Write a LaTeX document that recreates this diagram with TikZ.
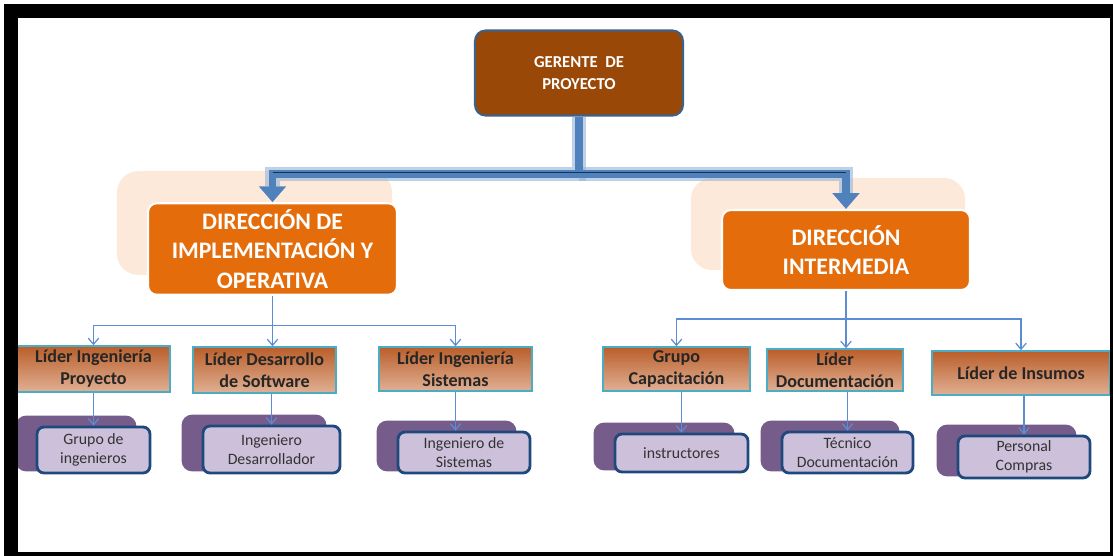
\documentclass[tikz,border=0pt]{standalone}
\usepackage{fontspec}
\setmainfont{Carlito}
\usetikzlibrary{shapes,arrows.meta,positioning,calc,backgrounds}
\definecolor{brown1}{RGB}{153,72,8}
\definecolor{orange1}{RGB}{228,108,10}
\definecolor{peach1}{RGB}{253,233,217}
\definecolor{blue1}{RGB}{79,129,189}
\definecolor{blue2}{RGB}{149,179,215}
\definecolor{blue3}{RGB}{31,73,125}
\definecolor{navy1}{RGB}{63,97,136}
\definecolor{cyan1}{RGB}{75,172,198}
\definecolor{tan1}{RGB}{186,94,42}
\definecolor{tan2}{RGB}{224,176,148}
\definecolor{lilac1}{RGB}{204,192,218}
\definecolor{purple1}{RGB}{117,92,138}
\definecolor{line1}{RGB}{91,141,212}

\tikzset{
  gerbox/.style={draw=navy1, line width=1.2pt, fill=brown1, rounded corners=6pt, text=white,
    font=\fontsize{9.5}{13}\selectfont\bfseries, align=center},
  dirbox/.style={draw=white, line width=1.2pt, fill=orange1, rounded corners=5pt, text=white,
    font=\fontsize{13.5}{17}\selectfont\bfseries, align=center},
  liderbox/.style={draw=cyan1, line width=0.9pt, top color=tan1, bottom color=tan2, text=black!85,
    font=\fontsize{10.3}{12.5}\selectfont\bfseries, align=center, inner sep=1pt},
  grupobox/.style={draw=blue3, line width=1.6pt, fill=lilac1, rounded corners=4pt, text=black!80,
    font=\fontsize{9}{10.5}\selectfont, align=center, inner sep=1pt},
  bigconn/.style={draw=blue1, line width=4.5pt, -{Triangle[width=15pt,length=9pt]}},
  glowconn/.style={draw=blue2, line width=8pt, opacity=0.6, shorten >=9pt},
  smallconn/.style={draw=line1, line width=0.7pt, -{Straight Barb[length=3.5pt,width=6pt]}},
}

\begin{document}
\begin{tikzpicture}[x=0.02cm, y=-0.02cm]
    \useasboundingbox (0,0) rectangle (1113,555);
    \clip (0,0) rectangle (1113,555);

    % top
    \node[gerbox, minimum width=4.16cm, minimum height=1.7cm] (ger) at (579,73) {GERENTE\ \ DE\\PROYECTO};

    % direcciones
    \node[dirbox, minimum width=4.98cm, minimum height=1.64cm] (dirA) at (272.5,249) {DIRECCIÓN DE\\IMPLEMENTACIÓN Y\\OPERATIVA};
    \node[dirbox, minimum width=4.96cm, minimum height=1.6cm] (dirB) at (846,250) {DIRECCIÓN\\INTERMEDIA};

    % lideres
    \node[liderbox, minimum width=3.06cm, minimum height=0.92cm] (liP) at (93.5,369) {Líder Ingeniería\\Proyecto};
    \node[liderbox, minimum width=2.86cm, minimum height=0.92cm] (liD) at (264.5,370) {Líder Desarrollo\\de Software};
    \node[liderbox, minimum width=3.06cm, minimum height=0.88cm] (liS) at (455.5,369) {Líder Ingeniería\\Sistemas};
    \node[liderbox, minimum width=2.94cm, minimum height=0.88cm] (gCap) at (676.5,369) {Grupo\\Capacitación};
    \node[liderbox, minimum width=2.72cm, minimum height=0.84cm] (liDoc) at (835,370) {Líder\\Documentación};
    \node[liderbox, minimum width=3.56cm, minimum height=0.88cm] (liIns) at (1021,373) {Líder de Insumos};

    % grupos
    \node[grupobox, minimum width=2.26cm, minimum height=0.92cm] (gIng) at (93.5,450) {Grupo de\\ingenieros};
    \node[grupobox, minimum width=2.74cm, minimum height=0.94cm] (ingDes) at (271.5,449.5) {Ingeniero\\Desarrollador};
    \node[grupobox, minimum width=2.64cm, minimum height=0.82cm] (ingSis) at (464,452.5) {Ingeniero de\\Sistemas};
    \node[grupobox, minimum width=2.66cm, minimum height=0.76cm] (instr) at (681.5,453) {instructores};
    \node[grupobox, minimum width=2.62cm, minimum height=0.82cm] (tecDoc) at (847.5,452.5) {Técnico\\Documentación};
    \node[grupobox, minimum width=2.64cm, minimum height=0.84cm] (pers) at (1024,457) {Personal\\Compras};

    \begin{pgfonlayer}{background}
        \foreach \n in {dirA,dirB}
            \fill[peach1, rounded corners=12pt] ($(\n.north west)+(-30,-31)$) rectangle ($(\n.south east)+(-6,-21)$);
        \foreach \n in {gIng,ingDes,ingSis,instr,tecDoc,pers}
            \fill[purple1, rounded corners=6pt] ($(\n.north west)+(-20,-10)$) rectangle ($(\n.south east)+(-15,-3)$);
    \end{pgfonlayer}

    % thick connectors
    \coordinate (jTop) at ($(ger.south)+(0,57)$);
    \draw[glowconn] (ger.south) -- (jTop) -| (dirA.north);
    \draw[glowconn] (jTop) -| (dirB.north);
    \draw[bigconn] (ger.south) -- (jTop) -| (dirA.north);
    \draw[bigconn] (jTop) -| (dirB.north);
    \draw[blue3!70!black, line width=0.8pt] ($(jTop -| dirA.north)+(0,-1)$) -- ($(jTop -| dirB.north)+(0,-1)$);

    % thin connectors
    \coordinate (jA) at ($(dirA.south)+(0,30)$);
    \draw[smallconn] (jA) -| (liP.north);
    \draw[smallconn] (jA) -| (liS.north);
    \draw[smallconn] (dirA.south) -- (dirA.south |- liD.north);
    \coordinate (jB) at ($(dirB.south)+(0,28)$);
    \draw[smallconn] (jB) -| (gCap.north);
    \draw[smallconn] (jB) -| (liIns.north);
    \draw[smallconn] (dirB.south) -- (dirB.south |- liDoc.north);

    \draw[smallconn] (liP.south) -- (gIng.north);
    \draw[smallconn] (ingDes.north |- liD.south) -- (ingDes.north);
    \draw[smallconn] (liS.south) -- (liS.south |- ingSis.north);
    \draw[smallconn] (instr.north |- gCap.south) -- (instr.north);
    \draw[smallconn] (tecDoc.north |- liDoc.south) -- (tecDoc.north);
    \draw[smallconn] (pers.north |- liIns.south) -- (pers.north);

    % frame
    \draw[black, line width=8pt] (11,11) rectangle (1117,559);
\end{tikzpicture}
\end{document}
